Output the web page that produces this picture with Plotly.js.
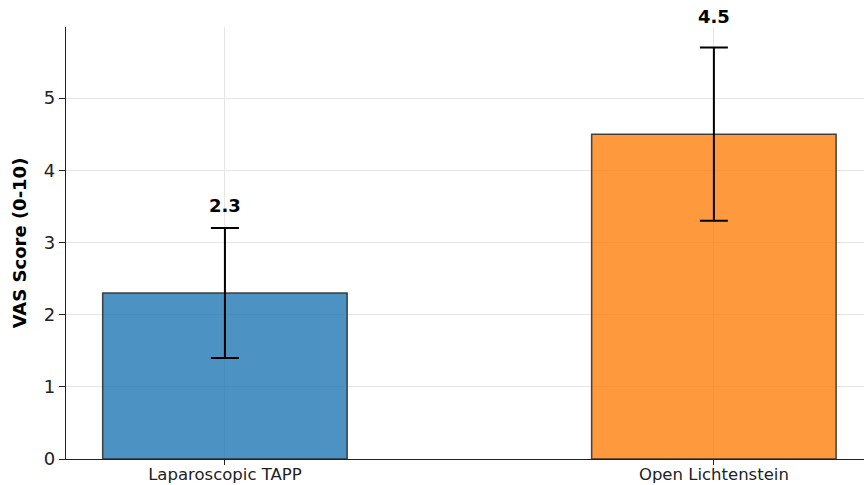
<!DOCTYPE html>
<html>
<head>
<meta charset="utf-8">
<script src="https://cdn.plot.ly/plotly-3.0.1.min.js"></script>
<style>html,body{margin:0;padding:0;overflow:hidden;background:#fff;}</style>
</head>
<body>
<div id="chart" style="width:864px;height:485px;"></div>
<script>
const categories = ["Laparoscopic TAPP", "Open Lichtenstein"];
const means = [2.3, 4.5];
const sds = [0.9, 1.2];
const valueLabels = ["2.3", "4.5"];
const barColors = ["rgba(31,119,180,0.8)", "rgba(255,127,14,0.8)"];

const trace = {
  type: "bar",
  x: [0, 1],
  y: means,
  width: 0.5,
  marker: {color: barColors, line: {color: "rgba(40,40,40,0.85)", width: 1.5}},
  error_y: {type: "data", array: sds, visible: true, color: "#000", thickness: 2, width: 14},
  hoverinfo: "skip"
};

const annotations = categories.map((c, i) => ({
  x: i, y: (means[i] + sds[i]) * 1.045, xref: "x", yref: "y",
  text: "<b>" + valueLabels[i] + "</b>", showarrow: false, yanchor: "bottom",
  font: {family: "DejaVu Sans", size: 18, color: "#000"}
}));

const layout = {
  width: 864, height: 485,
  margin: {l: 66, r: 0, t: 27, b: 26},
  paper_bgcolor: "#fff", plot_bgcolor: "#fff",
  showlegend: false,
  font: {family: "DejaVu Sans", size: 17, color: "#222"},
  xaxis: {
    range: [-0.325, 1.307], tickvals: [0, 1], ticktext: categories,
    showgrid: true, gridcolor: "#e6e6e6", gridwidth: 1,
    showline: true, linecolor: "#222", linewidth: 1.2,
    ticks: "outside", ticklen: 5, tickcolor: "#222", zeroline: false,
    ticklabelstandoff: -5,
    tickfont: {family: "DejaVu Sans", size: 16.5, color: "#222"}
  },
  yaxis: {
    range: [0, 5.985], tickvals: [0, 1, 2, 3, 4, 5],
    showgrid: true, gridcolor: "#e6e6e6", gridwidth: 1,
    showline: true, linecolor: "#222", linewidth: 1.2,
    ticks: "outside", ticklen: 6, tickcolor: "#222", zeroline: false,
    tickfont: {family: "DejaVu Sans", size: 18, color: "#222"},
    title: {text: "<b>VAS Score (0-10)</b>", font: {family: "DejaVu Sans", size: 18, color: "#000"}, standoff: 12}
  },
  annotations: annotations
};

Plotly.newPlot("chart", [trace], layout, {staticPlot: true, displayModeBar: false});
</script>
</body>
</html>
